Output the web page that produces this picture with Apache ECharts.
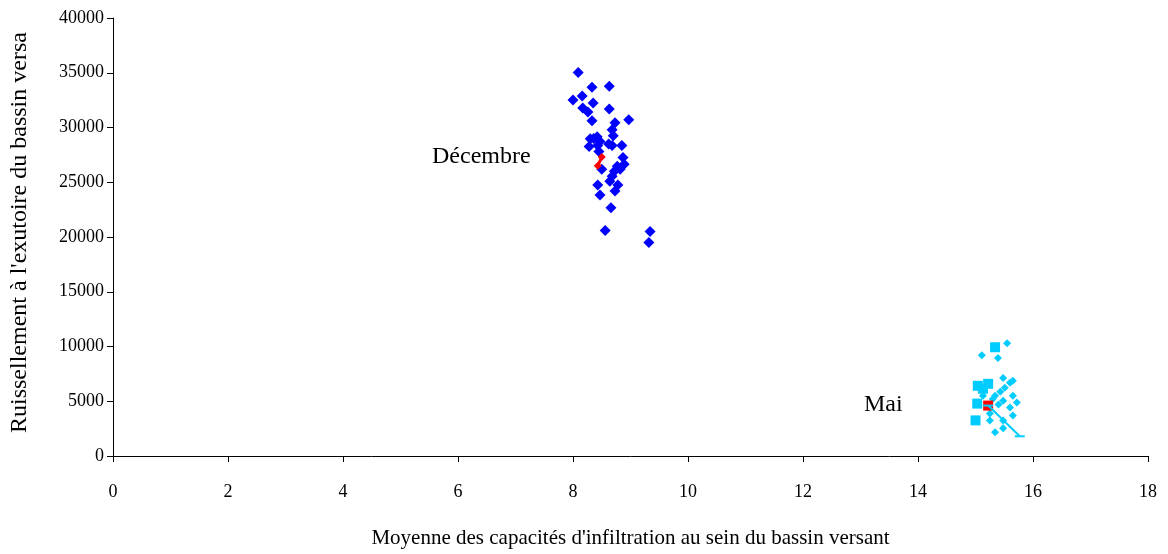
<!DOCTYPE html>
<html>
<head>
<meta charset="utf-8">
<script src="https://cdn.jsdelivr.net/npm/echarts@6/dist/echarts.min.js"></script>
<style>html,body{margin:0;padding:0;background:#fff;}#c{width:1168px;height:554px;}</style>
</head>
<body>
<div id="c"></div>
<script>
// Décembre: blue diamonds
const decX = [8.09,8.33,8.63,8.00,8.16,8.35,8.17,8.26,8.63,8.33,8.97,8.73,8.68,8.70,8.30,8.42,8.47,8.28,8.43,8.68,8.85,8.45,8.87,8.89,8.77,8.82,8.50,8.68,8.64,8.78,8.43,8.73,8.47,8.66,8.56,9.34,9.32,8.36,8.62,8.72];
const decY = [35034,33680,33770,32506,32867,32235,31783,31422,31693,30609,30700,30429,29797,29255,28984,29165,28713,28262,28352,28352,28352,27810,27269,26637,26456,26185,26185,25553,25102,24740,24740,24199,23837,22664,20587,20497,19503,29000,28500,26000];
// Décembre mean (red)
const decMeanX = [8.50,8.43];
const decMeanY = [27300,26500];
// Mai: cyan squares
const maiSqX = [15.34,15.04,15.22,15.13,15.03,15.00];
const maiSqY = [9932,6411,6591,6140,4786,3251];
// Mai: cyan diamonds
const maiDiX = [15.55,15.11,15.39,15.48,15.60,15.65,15.51,15.43,15.34,15.65,15.72,15.48,15.60,15.25,15.65,15.48,15.25,15.48,15.34,15.13,15.30,15.40];
const maiDiY = [10293,9210,8939,7133,6682,6862,6230,5869,5508,5508,4876,5056,4424,3883,3702,3251,3251,2528,2167,5500,5200,4700];
// Mai: cyan line
const maiLineX = [15.22,15.77];
const maiLineY = [4605,1800];
// Mai mean (red)
const maiMeanX = [15.22];
const maiMeanY = [4605];

const xTicks = [0,2,4,6,8,10,12,14,16,18];
const yTicks = [0,5000,10000,15000,20000,25000,30000,35000,40000];

const zip = (a,b) => a.map((v,i)=>[v,b[i]]);
const font = 'Liberation Serif';

const chart = echarts.init(document.getElementById('c'), null, {renderer:'canvas'});
chart.setOption({
  animation:false,
  backgroundColor:'#fff',
  grid:{left:113,right:20,top:18,bottom:93,containLabel:false},
  xAxis:{
    type:'value',min:xTicks[0],max:xTicks[xTicks.length-1],interval:2,
    axisLine:{show:true,onZero:false,lineStyle:{color:'#000',width:1}},
    axisTick:{show:true,length:6,lineStyle:{color:'#000'}},
    axisLabel:{color:'#000',fontFamily:font,fontSize:18,margin:27},
    splitLine:{show:false},
    name:'Moyenne des capacités d\'infiltration au sein du bassin versant',
    nameLocation:'middle',nameGap:72,
    nameTextStyle:{color:'#000',fontFamily:font,fontSize:21}
  },
  yAxis:{
    type:'value',min:yTicks[0],max:yTicks[yTicks.length-1],interval:5000,
    axisLine:{show:true,lineStyle:{color:'#000',width:1}},
    axisTick:{show:true,length:6,lineStyle:{color:'#000'}},
    axisLabel:{color:'#000',fontFamily:font,fontSize:18,margin:9,formatter:v=>String(v)},
    splitLine:{show:false}
  },
  graphic:[
    {type:'text',x:20,y:433,rotation:Math.PI/2,
     style:{text:'Ruissellement à l\'exutoire du bassin versa',fill:'#000',font:'24px "Liberation Serif"',textAlign:'left',textVerticalAlign:'middle'}},
    {type:'text',left:432,top:145,style:{text:'Décembre',fill:'#000',font:'24px "Liberation Serif"'}},
    {type:'text',left:864,top:393,style:{text:'Mai',fill:'#000',font:'24px "Liberation Serif"'}}
  ],
  series:[
    {type:'scatter',data:zip(decX,decY),symbol:'diamond',symbolSize:11,itemStyle:{color:'#0000FF',opacity:1}},
    {type:'line',data:zip(decMeanX,decMeanY),symbol:'diamond',symbolSize:8,lineStyle:{color:'#FF0000',width:3},itemStyle:{color:'#FF0000',opacity:1}},
    {type:'scatter',data:zip(maiDiX,maiDiY),symbol:'diamond',symbolSize:8,itemStyle:{color:'#00CCFF',opacity:1}},
    {type:'scatter',data:zip(maiSqX,maiSqY),symbol:'rect',symbolSize:10,itemStyle:{color:'#00CCFF',opacity:1}},
    {type:'line',data:zip(maiLineX,maiLineY),symbol:'rect',symbolSize:[10,2],lineStyle:{color:'#00CCFF',width:2},itemStyle:{color:'#00CCFF',opacity:1}},
    {type:'scatter',data:zip(maiMeanX,maiMeanY),symbol:'rect',symbolSize:10,itemStyle:{color:'#FF0000',opacity:1}}
  ]
});
</script>
</body>
</html>
